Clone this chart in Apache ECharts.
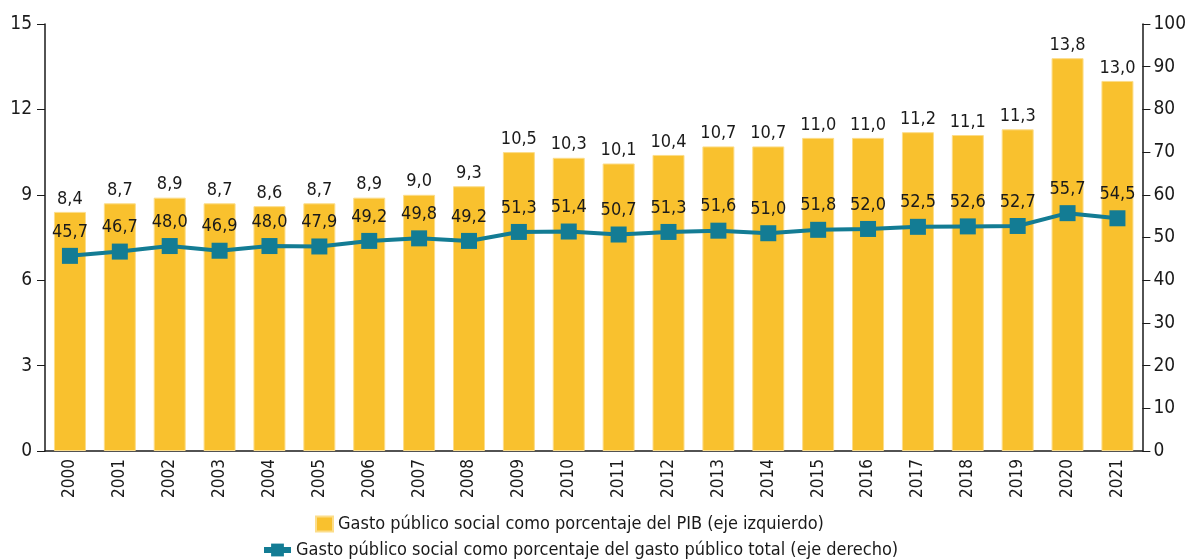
<!DOCTYPE html>
<html>
<head>
<meta charset="utf-8">
<script src="https://cdn.jsdelivr.net/npm/echarts@6/dist/echarts.min.js"></script>
<style>
  html, body { margin: 0; padding: 0; background: #fff; }
  #c { width: 1189px; height: 559px; }
</style>
</head>
<body>
<div id="c"></div>
<script>
const years = ['2000', '2001', '2002', '2003', '2004', '2005', '2006', '2007', '2008', '2009', '2010',
  '2011', '2012', '2013', '2014', '2015', '2016', '2017', '2018', '2019', '2020', '2021']
const pctPib = [8.4, 8.7, 8.9, 8.7, 8.6, 8.7, 8.9, 9.0, 9.3, 10.5, 10.3,
  10.1, 10.4, 10.7, 10.7, 11.0, 11.0, 11.2, 11.1, 11.3, 13.8, 13.0]
const pctGasto = [45.7, 46.7, 48.0, 46.9, 48.0, 47.9, 49.2, 49.8, 49.2, 51.3, 51.4,
  50.7, 51.3, 51.6, 51.0, 51.8, 52.0, 52.5, 52.6, 52.7, 55.7, 54.5]

const font = '"Liberation Sans Narrow", "DejaVu Sans Condensed", "Roboto", sans-serif'
const ink = '#1a1a1a'
const yellow = '#F9C12E'
const teal = '#137C94'
const fmt = p => p.value.toFixed(1).replace('.', ',')

const chart = echarts.init(document.getElementById('c'))
chart.setOption({
  animation: false,
  textStyle: { fontFamily: font, color: ink },
  grid: { left: 45, right: 44, top: 24, bottom: 108 },
  legend: [
    {
      data: [{ name: 'Gasto público social como porcentaje del PIB (eje izquierdo)', icon: 'rect' }],
      top: 510,
      left: 310,
      itemWidth: 17,
      itemHeight: 15,
      itemGap: 4,
      textStyle: { fontFamily: font, fontSize: 18, color: ink },
    },
    {
      data: ['Gasto público social como porcentaje del gasto público total (eje derecho)'],
      top: 536,
      left: 256,
      itemWidth: 27,
      itemHeight: 16,
      lineStyle: { width: 6 },
      textStyle: { fontFamily: font, fontSize: 18, color: ink },
    },
  ],
  xAxis: {
    type: 'category',
    data: years,
    axisLine: { lineStyle: { color: ink, width: 1.5 } },
    axisTick: { length: 5, lineStyle: { color: ink } },
    axisLabel: { rotate: 90, fontSize: 17, color: ink, margin: 8, fontFamily: font },
  },
  yAxis: [
    {
      type: 'value',
      min: 0,
      max: 15,
      interval: 3,
      axisLine: { show: true, lineStyle: { color: ink, width: 1.5 } },
      axisTick: { show: true, length: 8, lineStyle: { color: ink } },
      splitLine: { show: false },
      axisLabel: { fontSize: 19, color: ink, margin: 13, fontFamily: font },
    },
    {
      type: 'value',
      min: 0,
      max: 100,
      interval: 10,
      axisLine: { show: true, lineStyle: { color: ink, width: 1.5 } },
      axisTick: { show: true, length: 8, lineStyle: { color: ink } },
      splitLine: { show: false },
      axisLabel: { fontSize: 19, color: ink, margin: 11, fontFamily: font },
    },
  ],
  series: [
    {
      name: 'Gasto público social como porcentaje del PIB (eje izquierdo)',
      type: 'bar',
      yAxisIndex: 0,
      data: pctPib,
      barWidth: 32,
      itemStyle: { color: yellow, borderColor: '#FCDD8A', borderWidth: 1 },
      label: {
        show: true,
        position: 'top',
        distance: 4,
        formatter: fmt,
        fontSize: 18,
        color: ink,
        fontFamily: font,
      },
    },
    {
      name: 'Gasto público social como porcentaje del gasto público total (eje derecho)',
      type: 'line',
      yAxisIndex: 1,
      data: pctGasto,
      symbol: 'rect',
      symbolSize: 16,
      lineStyle: { color: teal, width: 4 },
      itemStyle: { color: teal },
      label: {
        show: true,
        position: 'top',
        distance: 7,
        formatter: fmt,
        fontSize: 18,
        color: ink,
        fontFamily: font,
      },
      z: 3,
    },
  ],
})
</script>
</body>
</html>
